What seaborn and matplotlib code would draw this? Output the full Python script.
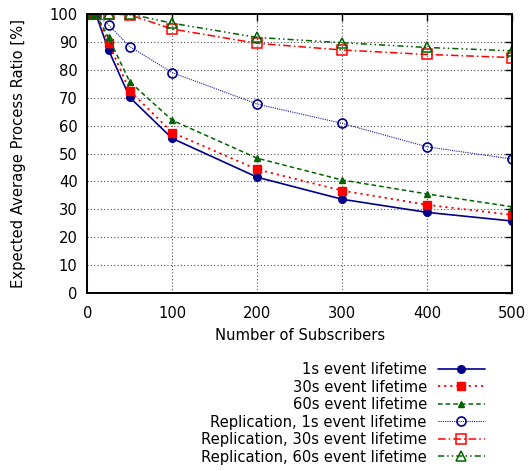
import matplotlib
matplotlib.use("Agg")
import matplotlib.pyplot as plt
import seaborn as sns
import pandas as pd

# Number of subscribers (x axis)
subscribers = [1, 10, 25, 50, 100, 200, 300, 400, 500]

# Expected average process ratio [%] per configuration
ratio_1s = [100, 100, 87.1, 70.1, 55.4, 41.5, 33.6, 28.9, 25.8]
ratio_30s = [100, 100, 89.7, 72.5, 57.5, 44.3, 36.7, 31.6, 28.0]
ratio_60s = [100, 100, 91.6, 75.7, 61.9, 48.3, 40.5, 35.5, 30.9]
ratio_rep_1s = [100, 100, 96.1, 88.3, 79.0, 67.7, 60.8, 52.4, 48.0]
ratio_rep_30s = [100, 100, 100, 99.7, 94.6, 89.5, 87.1, 85.5, 84.4]
ratio_rep_60s = [100, 100, 100, 100, 96.7, 91.6, 89.7, 88.0, 86.8]

labels = [
    "1s event lifetime",
    "30s event lifetime",
    "60s event lifetime",
    "Replication, 1s event lifetime",
    "Replication, 30s event lifetime",
    "Replication, 60s event lifetime",
]
series = [ratio_1s, ratio_30s, ratio_60s, ratio_rep_1s, ratio_rep_30s, ratio_rep_60s]

navy = "#00008b"
red = "#ff0000"
green = "#006400"
styles = [
    dict(color=navy, linestyle="-", marker="o", markersize=5.5, mfc=navy, mec=navy, lw=1.2),
    dict(color=red, linestyle=(0, (1.2, 2.2)), marker="s", markersize=6, mfc=red, mec=red, lw=1.3),
    dict(color=green, linestyle=(0, (3, 2)), marker="^", markersize=5, mfc=green, mec=green, lw=1.1),
    dict(color="#1a1aa0", linestyle=(0, (1, 1)), marker="o", markersize=6.5, mfc="none", mec=navy, mew=1.2, lw=0.8),
    dict(color=red, linestyle=(0, (5, 2, 1, 2)), marker="s", markersize=6.5, mfc="none", mec=red, mew=1.1, lw=1.1),
    dict(color=green, linestyle=(0, (4, 2, 1, 2, 1, 2)), marker="^", markersize=6.5, mfc="none", mec=green, mew=1.1, lw=1.1),
]

FS = 10.6

sns.set_style("white")
plt.rcParams["font.family"] = ["DejaVu Sans"]
plt.rcParams["text.color"] = "black"
plt.rcParams["axes.labelcolor"] = "black"

fig = plt.figure(figsize=(5.29, 4.71), dpi=100)
ax = fig.add_axes([87.3 / 529, 1 - 293 / 471, (512 - 87.3) / 529, (293 - 14) / 471])

for lab, vals, st in zip(labels, series, styles):
    df = pd.DataFrame({"subscribers": subscribers, "ratio": vals})
    st = dict(st)
    sns.lineplot(data=df, x="subscribers", y="ratio", ax=ax, label=lab,
                 color=st.pop("color"), linestyle=st.pop("linestyle"),
                 marker=st.pop("marker"), markersize=st.pop("markersize"),
                 markerfacecolor=st.pop("mfc"), markeredgecolor=st.pop("mec"),
                 markeredgewidth=st.pop("mew", 1.0), linewidth=st.pop("lw"))

ax.set_xlim(0, 500)
ax.set_ylim(0, 100)
ax.set_xticks(range(0, 501, 100))
ax.set_yticks(range(0, 101, 10))
ax.grid(True, color="#555555", linestyle=(0, (1, 2)), linewidth=0.8)
ax.tick_params(direction="in", length=5, width=1, top=True, right=True,
               labelsize=FS, colors="black", labelcolor="black")
ax.tick_params(axis="x", pad=9)
ax.tick_params(axis="y", pad=7)
for sp in ax.spines.values():
    sp.set_color("black")
    sp.set_linewidth(1.4)

ax.set_xlabel("Number of Subscribers", fontsize=FS, color="black")
ax.set_ylabel("Expected Average Process Ratio [%]", fontsize=FS, color="black")
ax.xaxis.set_label_coords(0.5, -(335 - 293) / (293 - 14), transform=ax.transAxes)
ax.xaxis.label.set_va("center")
ax.yaxis.set_label_coords(-(87.3 - 18) / (512 - 87.3), 0.5)
ax.yaxis.label.set_va("center")

leg = ax.legend(loc="upper right", bbox_to_anchor=(485 / 529, 1 - 362 / 471),
                bbox_transform=fig.transFigure, frameon=False, markerfirst=False,
                fontsize=FS, handlelength=3.2, handletextpad=0.75, labelspacing=0.17,
                borderpad=0, borderaxespad=0)
for t in leg.get_texts():
    t.set_color("black")

fig.savefig("out.png", dpi=100)
